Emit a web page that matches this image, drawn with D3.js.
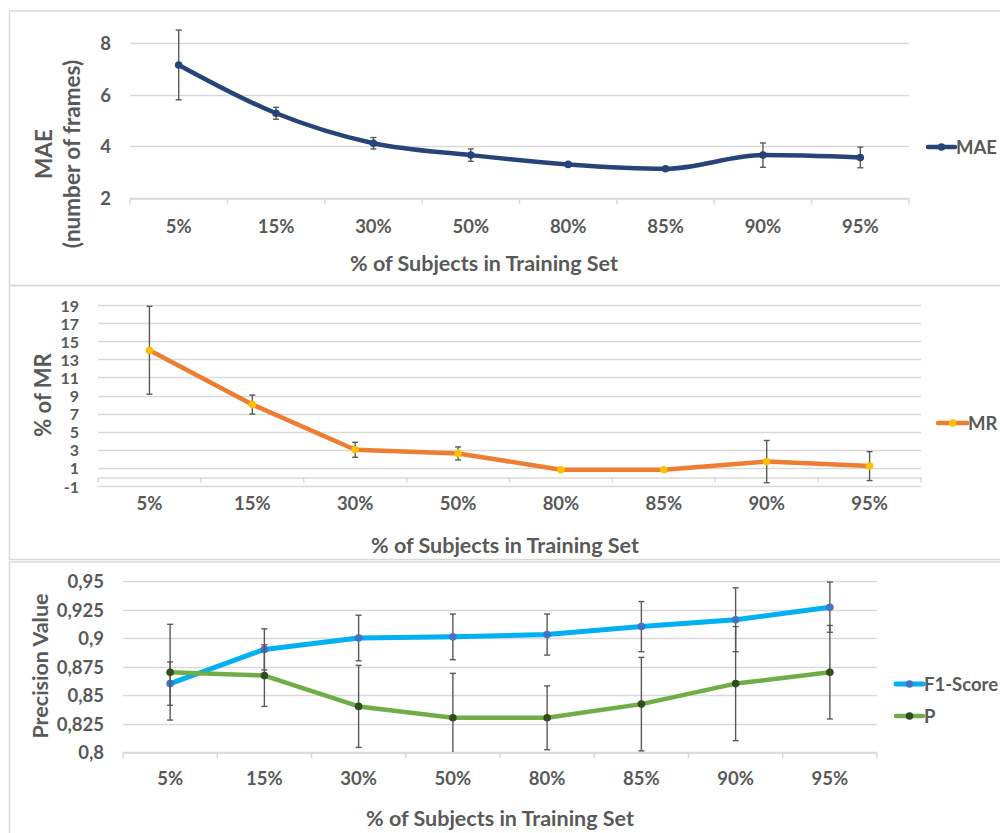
<!DOCTYPE html>
<html>
<head>
<meta charset="utf-8">
<script src="https://cdn.jsdelivr.net/npm/d3@7"></script>
<style>
  html, body { margin: 0; padding: 0; background: #fff; }
  svg { display: block; }
  text { font-family: Lato, "Open Sans", sans-serif; font-weight: bold; fill: #595959; }
</style>
</head>
<body>
<svg id="chart" width="1000" height="833"></svg>
<script>
// ---------------- DATA ----------------
const categories = ["5%", "15%", "30%", "50%", "80%", "85%", "90%", "95%"];

const maeValues = [7.15, 5.28, 4.12, 3.66, 3.30, 3.13, 3.66, 3.57];
const maeErrors = [1.35, 0.23, 0.22, 0.24, 0, 0, 0.47, 0.40];
const maeTicks = [2, 4, 6, 8];

const mrValues = [14.0, 8.0, 3.0, 2.6, 0.8, 0.8, 1.7, 1.2];
const mrErrors = [4.85, 1.05, 0.83, 0.72, 0, 0, 2.33, 1.6];
const mrTicks = [-1, 1, 3, 5, 7, 9, 11, 13, 15, 17, 19];

const f1Values = [0.860, 0.890, 0.900, 0.901, 0.903, 0.910, 0.916, 0.927];
const f1Errors = [0.019, 0.018, 0.020, 0.020, 0.018, 0.022, 0.028, 0.022];
const pValues = [0.870, 0.867, 0.840, 0.830, 0.830, 0.842, 0.860, 0.870];
const pErrors = [0.042, 0.027, 0.036, 0.039, 0.028, 0.041, 0.050, 0.041];
const precisionTicks = [0.8, 0.825, 0.85, 0.875, 0.9, 0.925, 0.95];
const precisionTickLabels = ["0,8", "0,825", "0,85", "0,875", "0,9", "0,925", "0,95"];

const xTitle = "% of Subjects in Training Set";

// ---------------- DRAWING ----------------
const svg = d3.select("#chart");
const GRID = "#d9d9d9";
const ERR = "#595959";

// panel frames
const frames = [
  {x: 9.5, y: 11, w: 1000, h: 274.5},
  {x: 9.5, y: 285.5, w: 1000, h: 274},
  {x: 9.5, y: 562, w: 1000, h: 300}
];
frames.forEach(f => {
  svg.append("rect").attr("x", f.x).attr("y", f.y).attr("width", f.w).attr("height", f.h)
    .attr("fill", "none").attr("stroke", GRID).attr("stroke-width", 1.5);
});

function panel(cfg) {
  const g = svg.append("g");
  const x = d3.scaleBand().domain(categories).range([cfg.x0, cfg.x1]).padding(0);
  const y = d3.scaleLinear().domain(cfg.domain).range([cfg.yb, cfg.yt]);

  // gridlines
  g.append("g").selectAll("line").data(cfg.ticks).join("line")
    .attr("x1", cfg.x0).attr("x2", cfg.x1)
    .attr("y1", d => Math.round(y(d)) + 0.5).attr("y2", d => Math.round(y(d)) + 0.5)
    .attr("stroke", GRID).attr("stroke-width", 1.5);

  // x axis at baseline
  const base = Math.round(y(cfg.axisAt)) + 0.5;
  const xAxis = d3.axisBottom(x).tickSize(0).tickPadding(0).tickFormat("");
  const ax = g.append("g").attr("transform", `translate(0,${base})`).call(xAxis);
  ax.select(".domain").attr("stroke", GRID).attr("stroke-width", 1.5);
  ax.selectAll(".tick").remove();
  const edges = categories.map(c => x(c)).concat([cfg.x1]);
  g.append("g").selectAll("line").data(edges).join("line")
    .attr("x1", d => d).attr("x2", d => d)
    .attr("y1", base).attr("y2", base + cfg.tickLen)
    .attr("stroke", GRID).attr("stroke-width", 1.5);

  // category labels
  g.append("g").selectAll("text").data(categories).join("text")
    .attr("x", d => x(d) + x.bandwidth() / 2).attr("y", cfg.catY)
    .attr("text-anchor", "middle").attr("dominant-baseline", "central")
    .style("font-size", "18.5px").text(d => d);

  // y labels
  g.append("g").selectAll("text").data(cfg.ticks).join("text")
    .attr("x", cfg.yLabelX).attr("y", d => y(d))
    .attr("text-anchor", "end").attr("dominant-baseline", "central")
    .style("font-size", cfg.yLabelSize || "18.5px")
    .text((d, i) => cfg.tickLabels ? cfg.tickLabels[i] : d);

  // y title
  cfg.yTitle.forEach(t => {
    g.append("text").attr("transform", `translate(${t.x},${cfg.yTitleCY}) rotate(-90)`)
      .attr("text-anchor", "middle").attr("dominant-baseline", "central")
      .style("font-size", cfg.yTitleSize || "21px").text(t.text);
  });

  // x title
  g.append("text").attr("x", cfg.xTitleX).attr("y", cfg.xTitleY)
    .attr("text-anchor", "middle").attr("dominant-baseline", "central")
    .style("font-size", "21.5px").text(xTitle);

  const [ymin] = cfg.domain;
  cfg.series.forEach(s => {
    const cx = i => x(categories[i]) + x.bandwidth() / 2;
    // error bars
    const eg = g.append("g");
    s.values.forEach((v, i) => {
      const e = s.errors[i];
      if (!e) return;
      const xc = cx(i);
      const lo = Math.max(v - e, ymin);
      const hi = v + e;
      eg.append("line").attr("x1", xc).attr("x2", xc).attr("y1", y(lo)).attr("y2", y(hi))
        .attr("stroke", ERR).attr("stroke-width", 1.4);
      eg.append("line").attr("x1", xc - 3).attr("x2", xc + 3).attr("y1", y(hi)).attr("y2", y(hi))
        .attr("stroke", ERR).attr("stroke-width", 1.4);
      if (v - e >= ymin) {
        eg.append("line").attr("x1", xc - 3).attr("x2", xc + 3).attr("y1", y(lo)).attr("y2", y(lo))
          .attr("stroke", ERR).attr("stroke-width", 1.4);
      }
    });
    const line = d3.line().x((d, i) => cx(i)).y(d => y(d)).curve(s.curve || d3.curveLinear);
    g.append("path").datum(s.values).attr("d", line)
      .attr("fill", "none").attr("stroke", s.color).attr("stroke-width", s.width)
      .attr("stroke-linejoin", "round").attr("stroke-linecap", "round");
    g.append("g").selectAll("circle").data(s.values).join("circle")
      .attr("cx", (d, i) => cx(i)).attr("cy", d => y(d)).attr("r", 3.8)
      .attr("fill", s.marker);

    // legend
    const L = s.legend;
    g.append("line").attr("x1", L.x0).attr("x2", L.x1).attr("y1", L.y).attr("y2", L.y)
      .attr("stroke", s.color).attr("stroke-width", s.width).attr("stroke-linecap", "round");
    g.append("circle").attr("cx", (L.x0 + L.x1) / 2).attr("cy", L.y).attr("r", 3.8).attr("fill", s.marker);
    g.append("text").attr("x", L.x1 + 1).attr("y", L.y).attr("dominant-baseline", "central")
      .style("font-size", "18.5px").text(s.name);
  });
}

panel({
  x0: 130, x1: 909, domain: [2, 8], yb: 198, yt: 43, axisAt: 2, tickLen: 6,
  ticks: maeTicks, catY: 226, yLabelX: 111,
  yTitle: [{x: 43, text: "MAE"}, {x: 71, text: "(number of frames)"}], yTitleCY: 154, yTitleSize: "22.5px",
  xTitleX: 484, xTitleY: 263,
  series: [{name: "MAE", values: maeValues, errors: maeErrors, color: "#264478", marker: "#264478",
            width: 4.5, curve: d3.curveMonotoneX,
            legend: {x0: 928, x1: 955, y: 147}}]
});

panel({
  x0: 98, x1: 921, domain: [-1, 19], yb: 486, yt: 305, axisAt: 0, tickLen: 5,
  ticks: mrTicks, catY: 503, yLabelX: 79, yLabelSize: "16px",
  yTitle: [{x: 42, text: "% of MR"}], yTitleCY: 395, yTitleSize: "22px",
  xTitleX: 505, xTitleY: 545,
  series: [{name: "MR", values: mrValues, errors: mrErrors, color: "#ed7d31", marker: "#ffc000",
            width: 4.5, legend: {x0: 938, x1: 967, y: 423}}]
});

panel({
  x0: 123, x1: 877, domain: [0.8, 0.95], yb: 752, yt: 581, axisAt: 0.8, tickLen: 6,
  ticks: precisionTicks, tickLabels: precisionTickLabels, catY: 778, yLabelX: 104,
  yTitle: [{x: 40, text: "Precision Value"}], yTitleCY: 666, yTitleSize: "21.5px",
  xTitleX: 500, xTitleY: 818,
  series: [
    {name: "F1-Score", values: f1Values, errors: f1Errors, color: "#00b0f0", marker: "#4472c4",
     width: 5, legend: {x0: 896, x1: 923, y: 684}},
    {name: "P", values: pValues, errors: pErrors, color: "#70ad47", marker: "#2f4d1d",
     width: 4.5, legend: {x0: 896, x1: 923, y: 716}}
  ]
});
</script>
</body>
</html>
